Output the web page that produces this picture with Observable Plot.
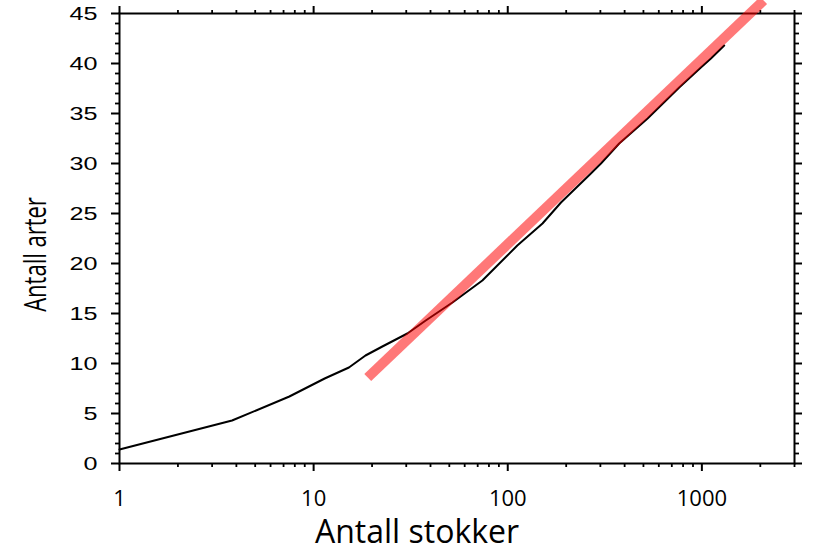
<!DOCTYPE html>
<html>
<head>
<meta charset="utf-8">
<script src="https://cdn.jsdelivr.net/npm/d3@7"></script>
<script src="https://cdn.jsdelivr.net/npm/@observablehq/plot@0.6"></script>
<style>
  html, body { margin: 0; padding: 0; background: #fff; }
  svg { overflow: visible; }
</style>
</head>
<body>
<div id="chart"></div>
<script>
// Observed curve (species accumulation)
const stokker = [1, 3.8, 7.5, 11.4, 15.2, 18.5, 22.6, 30.4, 37.8, 51.9, 74, 112, 151, 188, 268, 302, 375, 525, 764, 988, 1113, 1303];
const arter   = [1.4, 4.3, 6.7, 8.5, 9.6, 10.8, 11.7, 13.0, 14.3, 16.1, 18.3, 21.8, 24.0, 26.1, 29.0, 30.0, 32.0, 34.5, 37.6, 39.6, 40.5, 41.8];
// Fitted straight line (two end points)
const fitX = [19, 2080];
const fitY = [8.6, 46.3];

// Tick labels
const xMajor = [1, 10, 100, 1000];
const xMinor = [2,3,4,5,6,7,8,9,20,30,40,50,60,70,80,90,200,300,400,500,600,700,800,900,2000,3000];
const yMajor = [0, 5, 10, 15, 20, 25, 30, 35, 40, 45];
const yMinor = d3.range(1, 45).filter(d => d % 5 !== 0);
const xTitle = "Antall stokker";
const yTitle = "Antall arter";

const curve = stokker.map((x, i) => ({x, y: arter[i]}));
const fit = fitX.map((x, i) => ({x, y: fitY[i]}));

const noText = () => "";
const tickStyle = {label: null, tickFormat: noText, stroke: "black"};

const chart = Plot.plot({
  width: 817,
  height: 550,
  marginTop: 13,
  marginBottom: 87,
  marginLeft: 119,
  marginRight: 23,
  style: {background: "#fff", overflow: "visible"},
  x: {type: "log", domain: [1, 3000], label: null},
  y: {domain: [0, 45], label: null},
  marks: [
    Plot.axisX(xMajor, {...tickStyle, anchor: "bottom", tickSize: 8, strokeWidth: 2}),
    Plot.axisX(xMinor, {...tickStyle, anchor: "bottom", tickSize: 4, strokeWidth: 1.8}),
    Plot.axisX(xMajor, {...tickStyle, anchor: "top", tickSize: 8, strokeWidth: 2}),
    Plot.axisX(xMinor, {...tickStyle, anchor: "top", tickSize: 4, strokeWidth: 1.8}),
    Plot.axisY(yMajor, {...tickStyle, anchor: "left", tickSize: 8, strokeWidth: 2}),
    Plot.axisY(yMinor, {...tickStyle, anchor: "left", tickSize: 4, strokeWidth: 1.8}),
    Plot.axisY(yMajor, {...tickStyle, anchor: "right", tickSize: 7, strokeWidth: 2}),
    Plot.axisY(yMinor, {...tickStyle, anchor: "right", tickSize: 4, strokeWidth: 1.8}),
    Plot.frame({stroke: "black", strokeWidth: 2}),
    // x tick labels
    Plot.text(xMajor, {
      x: d => d, frameAnchor: "bottom", text: d => String(d),
      dy: 35, lineAnchor: "middle", textAnchor: "middle",
      fontSize: 22, fontFamily: "'Open Sans', sans-serif", fill: "black"
    }),
    // y tick labels
    Plot.text(yMajor, {
      y: d => d, frameAnchor: "left", text: d => String(d),
      dx: -22, dy: 1, lineAnchor: "middle", textAnchor: "end",
      fontSize: 18, fontFamily: "'Liberation Sans', Arial, sans-serif", fill: "black",
      ariaDescription: "ylab"
    }),
    // data
    Plot.line(curve, {x: "x", y: "y", stroke: "black", strokeWidth: 2}),
    Plot.line(fit, {x: "x", y: "y", stroke: "rgb(255,0,0)", strokeOpacity: 0.53, strokeWidth: 10, strokeLinecap: "butt", clip: false}),
    // titles
    Plot.text([xTitle], {
      frameAnchor: "bottom", text: d => d, dx: -40, dy: 79, lineAnchor: "bottom",
      textAnchor: "middle", fontSize: 32, fontFamily: "'Open Sans', sans-serif", fill: "black"
    }),
    Plot.text([yTitle], {
      frameAnchor: "left", text: d => d, rotate: -90, dx: -74, dy: 16, lineAnchor: "bottom",
      textAnchor: "middle", fontSize: 22, fontFamily: "'Open Sans', sans-serif", fill: "black",
      ariaDescription: "ytitle"
    })
  ]
});

function stretch(sel, sx, sy) {
  chart.querySelectorAll(sel).forEach(t => {
    let tr = t.getAttribute("transform");
    if (!tr) {
      const x = +t.getAttribute("x") || 0, y = +t.getAttribute("y") || 0;
      t.removeAttribute("x"); t.removeAttribute("y");
      tr = `translate(${x},${y})`;
    }
    t.setAttribute("transform", `${tr} scale(${sx},${sy})`);
  });
}
stretch('g[aria-description="ylab"] text', 1.4, 1);
stretch('g[aria-description="ytitle"] text', 1, 1.38);

document.getElementById("chart").append(chart);
</script>
</body>
</html>
